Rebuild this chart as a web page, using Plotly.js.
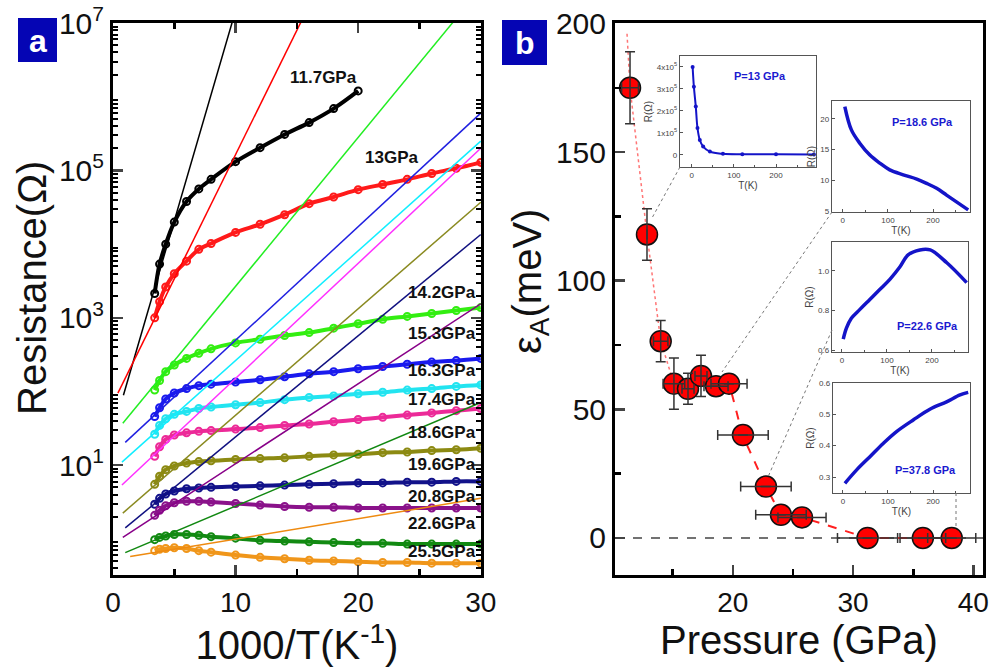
<!DOCTYPE html>
<html><head><meta charset="utf-8">
<script src="https://cdn.plot.ly/plotly-3.0.1.min.js"></script>
<style>html,body{margin:0;padding:0;background:#fff}#chart{width:1003px;height:670px}</style>
</head><body><div id="chart"></div>
<script>
// ---------- Panel a : R vs 1000/T ----------
const invT = [3.4, 3.8, 4.3, 5, 6, 7, 8, 10, 12, 14, 16, 18, 20, 22, 24, 26, 28, 30];
const seriesNames = ["11.7GPa","13GPa","14.2GPa","15.3GPa","16.3GPa","17.4GPa","18.6GPa","19.6GPa","20.8GPa","22.6GPa","25.5GPa"];
const R_117 = [2138, 5370, 10000, 19950, 38020, 56230, 75860, 131800, 204200, 309000, 446700, 691800, 1202000, null, null, null, null, null];
const R_130 = [1000, 1660, 2630, 3981, 5888, 8511, 10230, 14450, 18620, 25120, 35480, 43650, 54950, 64570, 75860, 91200, 107200, 128800];
const R_142 = [104.7, 141.3, 186.2, 229.1, 281.8, 331.1, 380.2, 457.1, 512.9, 575.4, 631.0, 724.4, 831.8, 955.0, 1047, 1148, 1259, 1380];
const R_153 = [45.7, 60.3, 79.4, 95.5, 109.6, 120.2, 125.9, 134.9, 144.5, 158.5, 173.8, 186.2, 204.2, 218.8, 234.4, 251.2, 263.0, 281.8];
const R_163 = [26.3, 34.7, 42.7, 49.0, 53.7, 58.9, 61.7, 66.1, 70.8, 77.6, 83.2, 87.1, 93.3, 97.7, 104.7, 109.6, 117.5, 123.0];
const R_174 = [13.2, 17.8, 22.4, 25.7, 27.5, 28.8, 29.5, 30.9, 32.4, 34.7, 36.3, 38.9, 41.7, 44.7, 47.9, 51.3, 55.0, 58.9];
const R_186 = [5.50, 7.08, 8.71, 9.77, 10.7, 11.2, 11.5, 12.0, 12.3, 12.6, 13.2, 13.8, 14.1, 14.8, 15.1, 15.8, 16.2, 17.0];
const R_196 = [2.95, 3.55, 4.07, 4.47, 4.79, 4.90, 5.01, 5.13, 5.25, 5.37, 5.50, 5.62, 5.75, 5.75, 5.89, 5.89, 6.03, 6.03];
const R_208 = [2.09, 2.45, 2.82, 3.09, 3.24, 3.24, 3.16, 3.02, 2.88, 2.75, 2.69, 2.69, 2.63, 2.63, 2.63, 2.63, 2.63, 2.63];
const R_226 = [0.977, 1.047, 1.096, 1.148, 1.148, 1.122, 1.072, 1.023, 0.955, 0.933, 0.912, 0.891, 0.871, 0.871, 0.851, 0.851, 0.851, 0.851];
const R_255 = [0.692, 0.724, 0.741, 0.759, 0.741, 0.692, 0.661, 0.603, 0.562, 0.537, 0.513, 0.501, 0.490, 0.479, 0.479, 0.468, 0.468, 0.468];
const seriesR = [R_117, R_130, R_142, R_153, R_163, R_174, R_186, R_196, R_208, R_226, R_255];
// straight activation fits (start/end points)
const fitX0 = [0.85, 0.4, 0.8, 1.0, 0.73, 0.73, 0.8, 1.0, 0.8, 1.0, 1.4];
const fitR0 = [89, 95, 37, 20.4, 11, 5.4, 2.24, 1.41, 1.05, 0.65, 0.575];
const fitX1 = [10, 16, 30, 30, 30, 30, 30, 30, 30, 30, 30];
const fitR1 = [1.48e7, 1.74e7, 2.95e7, 6.0e5, 2.5e5, 2.0e5, 3.7e4, 1.35e4, 1550, 71, 3.55];
const dataColors = ["#000000","#ff1a1a","#33ee11","#1a1aee","#22e4f0","#ec2a98","#8c8a12","#12128a","#8a128a","#128a12","#f0961a"];
const fitColors  = ["#000000","#ff0000","#22ee22","#2020e0","#11eeff","#ff30ff","#8a8a20","#101080","#880088","#118811","#ee8a10"];
const rTickVals = [10, 1e3, 1e5, 1e7];
const rTickText = ['10<sup>1</sup>', '10<sup>3</sup>', '10<sup>5</sup>', '10<sup>7</sup>'];
const rUnlabelled = [1, 100, 1e4, 1e6];

// ---------- Panel b : activation energy vs pressure ----------
const pressure = [11.45, 12.86, 14.0, 15.1, 16.27, 17.35, 18.6, 19.68, 20.84, 22.75, 24.0, 25.75, 31.2, 35.8, 38.2];
const energy   = [175, 118, 76.5, 60, 58, 63, 59, 60, 40, 20, 9, 8, 0, 0, 0];
const pErr     = [0.7, null, 0.6, 0.9, 0.5, 0.5, 1.0, 1.5, 2.1, 2.1, 2.1, 2.0, 2.5, 1.9, 2.0];
const eErr     = [14, 10, 8, 10, 6, 8, null, null, null, null, null, null, null, null, null];
const guideP = [11.2, 11.45, 12.86, 14.0, 15.1, 16.3, 17.4, 18.6, 19.7, 20.8, 22.75, 24.0, 25.75, 31.2, 38.2];
const guideE = [196, 175, 118, 76.5, 60, 58, 62, 59, 60, 40, 20, 9, 8, 0, 0];

// insets R(T)
const in1T = [2, 5, 9.5, 13.5, 19, 27, 43, 74, 120, 200, 290];
const in1R = [4.0e5, 3.1e5, 2.2e5, 1.23e5, 0.68e5, 0.38e5, 0.15e5, 5000, 3000, 2500, 2000];
const in2T = [4.4, 19, 38, 60, 82, 104, 134, 164, 186, 208, 230, 252, 278];
const in2R = [22.0, 18.2, 16.0, 14.1, 12.8, 11.7, 10.9, 10.2, 9.5, 8.7, 7.6, 6.5, 5.2];
const in3T = [3, 10, 21, 40, 62, 84, 107, 129, 147, 173, 196, 233, 277];
const in3R = [0.655, 0.71, 0.76, 0.805, 0.855, 0.905, 0.958, 1.02, 1.08, 1.105, 1.105, 1.04, 0.94];
const in4T = [4.4, 30, 60, 90, 119, 156, 193, 230, 260, 278];
const in4R = [0.28, 0.322, 0.365, 0.408, 0.445, 0.482, 0.516, 0.54, 0.562, 0.57];
const insetTitles = ["P=13 GPa", "P=18.6 GPa", "P=22.6 GPa", "P=37.8 GPa"];

// ---------- build ----------
const W = 1003, H = 670;
const px = v => v / W, py = v => 1 - v / H;
const FONT = "Arial, 'Liberation Sans', sans-serif";
const traces = [];

seriesR.forEach((r, i) => {
  traces.push({x: invT, y: r, mode: 'lines+markers', xaxis: 'x', yaxis: 'y', showlegend: false,
    line: {color: dataColors[i], width: 4, shape: 'spline'},
    marker: {symbol: 'circle-open', size: 7, line: {width: 2, color: dataColors[i]}}});
});
seriesR.forEach((r, i) => {
  traces.push({x: [fitX0[i], fitX1[i]], y: [fitR0[i], fitR1[i]], mode: 'lines', xaxis: 'x', yaxis: 'y',
    showlegend: false, line: {color: fitColors[i], width: 1.5}});
});

traces.push({x: guideP.slice(0, 5), y: guideE.slice(0, 5), mode: 'lines', xaxis: 'x2', yaxis: 'y2', showlegend: false,
  line: {color: 'rgba(255,60,60,0.7)', width: 1.5, dash: 'dot'}});
traces.push({x: guideP.slice(4), y: guideE.slice(4), mode: 'lines', xaxis: 'x2', yaxis: 'y2', showlegend: false,
  line: {color: '#ff2020', width: 2, dash: 'dash'}});
traces.push({x: pressure, y: energy, mode: 'markers', xaxis: 'x2', yaxis: 'y2', showlegend: false,
  marker: {size: 21, color: '#ff0000', line: {color: '#111', width: 1.5}}});
traces.push({x: pressure, y: energy, mode: 'markers', xaxis: 'x2', yaxis: 'y2', showlegend: false,
  marker: {size: 21, opacity: 0},
  error_x: {type: 'data', array: pErr, color: '#333', thickness: 1.5, width: 5},
  error_y: {type: 'data', array: eErr, color: '#333', thickness: 1.5, width: 5}});

const insetData = [[in1T, in1R], [in2T, in2R], [in3T, in3R], [in4T, in4R]];
insetData.forEach((d, k) => {
  const n = k + 3;
  traces.push({x: d[0], y: d[1], mode: k === 0 ? 'lines+markers' : 'lines', xaxis: 'x' + n, yaxis: 'y' + n,
    showlegend: false, line: {color: '#1414c8', width: k === 0 ? 2 : 3.5, shape: 'spline'},
    marker: {size: 4, color: '#1414c8'}});
});

const logMinor = [];
for (let e = -1; e < 7; e++) for (let m = 2; m <= 9; m++) logMinor.push(m * Math.pow(10, e));

const bigTick = {size: 28, family: FONT, color: '#111'};
const layout = {
  width: W, height: H, margin: {l: 0, r: 0, t: 0, b: 0},
  paper_bgcolor: '#fff', plot_bgcolor: 'rgba(0,0,0,0)', font: {family: FONT, color: '#111'},
  showlegend: false,
  xaxis: {domain: [px(113), px(481)], range: [0, 30.02], anchor: 'y', showgrid: false, zeroline: false,
    showline: true, linewidth: 3, linecolor: '#000', mirror: 'ticks', ticks: 'inside', ticklen: 10, tickwidth: 2.5,
    tickvals: [0, 10, 20, 30], tickfont: bigTick,
    minor: {tickvals: [5, 15, 25], ticks: 'inside', ticklen: 6, tickwidth: 2.5, tickcolor: '#000'},
    title: {text: '1000/T(K<sup>-1</sup>)', font: {size: 40, family: FONT, color: '#111'}, standoff: 6}},
  yaxis: {domain: [py(575), py(23)], type: 'log', range: [-0.49, 7.002], anchor: 'x', showgrid: false, zeroline: false,
    showline: true, linewidth: 3, linecolor: '#000', mirror: 'ticks', ticks: 'inside', ticklen: 10, tickwidth: 2.5,
    tickvals: rTickVals, ticktext: rTickText,
    tickfont: {size: 30, family: FONT, color: '#111'},
    minor: {tickvals: logMinor, ticks: 'inside', ticklen: 5, tickwidth: 2, tickcolor: '#000'}},
  yaxis7: {domain: [py(575), py(23)], type: 'log', range: [-0.49, 7.002], anchor: 'x', overlaying: 'y', side: 'left',
    showgrid: false, zeroline: false, showline: false, mirror: 'ticks', ticks: 'inside', ticklen: 10, tickwidth: 2.5,
    tickcolor: '#000', tickvals: rUnlabelled, showticklabels: false},
  xaxis2: {domain: [px(615), px(983)], range: [10.2, 40.8], anchor: 'y2', showgrid: false, zeroline: false,
    showline: true, linewidth: 3, linecolor: '#000', mirror: true, ticks: 'inside', ticklen: 10, tickwidth: 2.5,
    tickvals: [20, 30, 40], tickfont: bigTick,
    minor: {tickvals: [15, 25, 35], ticks: 'inside', ticklen: 6, tickwidth: 2.5, tickcolor: '#000'},
    title: {text: 'Pressure (GPa)', font: {size: 40, family: FONT, color: '#111'}, standoff: 6}},
  yaxis2: {domain: [py(575), py(23)], range: [-14.4, 200.2], anchor: 'x2', showgrid: false, zeroline: false,
    showline: true, linewidth: 3, linecolor: '#000', mirror: true, ticks: 'inside', ticklen: 10, tickwidth: 2.5,
    tickvals: [0, 50, 100, 150, 200], tickfont: {size: 30, family: FONT, color: '#111'},
    minor: {tickvals: [25, 75, 125, 175], ticks: 'inside', ticklen: 6, tickwidth: 2.5, tickcolor: '#000'}},
  shapes: [], annotations: []
};

// y-axis titles placed as rotated text
layout.annotations.push({xref: 'paper', yref: 'paper', x: px(32), y: py(288), text: 'Resistance(\u03A9)', textangle: -90,
  showarrow: false, xanchor: 'center', yanchor: 'middle', font: {size: 40, family: FONT, color: '#111'}});
layout.annotations.push({xref: 'paper', yref: 'paper', x: px(530), y: py(282), text: '\u03B5<sub>A</sub>(meV)', textangle: -90,
  showarrow: false, xanchor: 'center', yanchor: 'middle', font: {size: 40, family: FONT, color: '#111'}});

const insetBoxes = [
  {x: [680, 816], y: [56, 167], xr: [-28, 295], yr: [-0.55e5, 4.5e5], yt: [0, 1e5, 2e5, 3e5, 4e5],
   ytt: ['0', '1x10<sup>5</sup>', '2x10<sup>5</sup>', '3x10<sup>5</sup>', '4x10<sup>5</sup>'], title: [760, 76]},
  {x: [832, 970], y: [101, 212], xr: [-24, 282], yr: [4.85, 22.9], yt: [5, 10, 15, 20], ytt: null, title: [922, 122]},
  {x: [832, 968], y: [242, 352], xr: [-22, 280], yr: [0.59, 1.145], yt: [0.6, 0.8, 1.0], ytt: ['0.6', '0.8', '1.0'], title: [927, 326]},
  {x: [833, 970], y: [383, 493], xr: [-22, 282], yr: [0.249, 0.6], yt: [0.3, 0.4, 0.5, 0.6], ytt: ['0.3', '0.4', '0.5', '0.6'], title: [925, 470]}
];
insetBoxes.forEach((b, k) => {
  const n = k + 3;
  const small = {size: 8, family: FONT, color: '#444'};
  layout['xaxis' + n] = {domain: [px(b.x[0]), px(b.x[1])], range: b.xr, anchor: 'y' + n, showgrid: false, zeroline: false,
    showline: true, linewidth: 1.2, linecolor: '#555', mirror: true, ticks: 'inside', ticklen: 3, tickcolor: '#555',
    tickvals: [0, 100, 200], tickfont: small,
    minor: {tickvals: [50, 150, 250], ticks: 'inside', ticklen: 2, tickcolor: '#555'},
    title: {text: 'T(K)', font: {size: 10, family: FONT, color: '#444'}, standoff: 1}};
  const ya = {domain: [py(b.y[1]), py(b.y[0])], range: b.yr, anchor: 'x' + n, showgrid: false, zeroline: false,
    showline: true, linewidth: 1.2, linecolor: '#555', mirror: true, ticks: 'inside', ticklen: 3, tickcolor: '#555',
    tickvals: b.yt, tickfont: small,
    title: {text: 'R(\u03A9)', font: {size: 10, family: FONT, color: '#444'}, standoff: 2}};
  if (b.ytt) ya.ticktext = b.ytt;
  layout['yaxis' + n] = ya;
  layout.annotations.push({xref: 'paper', yref: 'paper', x: px(b.title[0]), y: py(b.title[1]), text: '<b>' + insetTitles[k] + '</b>',
    showarrow: false, font: {size: 11, family: FONT, color: '#1a1ad0'}, xanchor: 'center', yanchor: 'middle'});
});

// panel a labels
const labelPos = [[323, 77, 'center'], [391, 157, 'center'], [478, 292, 'right'], [478, 333, 'right'], [478, 370, 'right'],
  [478, 399, 'right'], [478, 432, 'right'], [478, 464, 'right'], [478, 496, 'right'], [478, 523, 'right'], [478, 551, 'right']];
seriesNames.forEach((s, i) => {
  const p = labelPos[i];
  layout.annotations.push({xref: 'paper', yref: 'paper', x: px(p[0]), y: py(p[1]), text: '<b>' + s + '</b>', showarrow: false,
    xanchor: p[2], yanchor: 'middle', font: {size: 17, family: FONT, color: '#111'}});
});

// panel letters
[[18, 18, 57, 62, 'a'], [502, 20, 547, 65, 'b']].forEach(b => {
  layout.shapes.push({type: 'rect', xref: 'paper', yref: 'paper', x0: px(b[0]), x1: px(b[2]), y0: py(b[3]), y1: py(b[1]),
    fillcolor: '#0505b4', line: {width: 0}});
  layout.annotations.push({xref: 'paper', yref: 'paper', x: px((b[0] + b[2]) / 2), y: py((b[1] + b[3]) / 2 + 1), text: '<b>' + b[4] + '</b>',
    showarrow: false, font: {size: 32, family: FONT, color: '#fff'}, xanchor: 'center', yanchor: 'middle'});
});

// zero line and connectors
layout.shapes.push({type: 'line', xref: 'x2 domain', yref: 'y2', x0: 0, x1: 1, y0: 0, y1: 0, layer: 'below',
  line: {color: '#444', width: 1.5, dash: 'dash'}});
[[680, 167, 652, 218], [832, 212, 722, 372], [832, 330, 768, 477], [956, 493, 956, 528]].forEach(c => {
  layout.shapes.push({type: 'line', xref: 'paper', yref: 'paper', x0: px(c[0]), y0: py(c[1]), x1: px(c[2]), y1: py(c[3]),
    line: {color: '#777', width: 1, dash: 'dot'}});
});

Plotly.newPlot('chart', traces, layout, {displayModeBar: false, staticPlot: true});
</script>
</body></html>
